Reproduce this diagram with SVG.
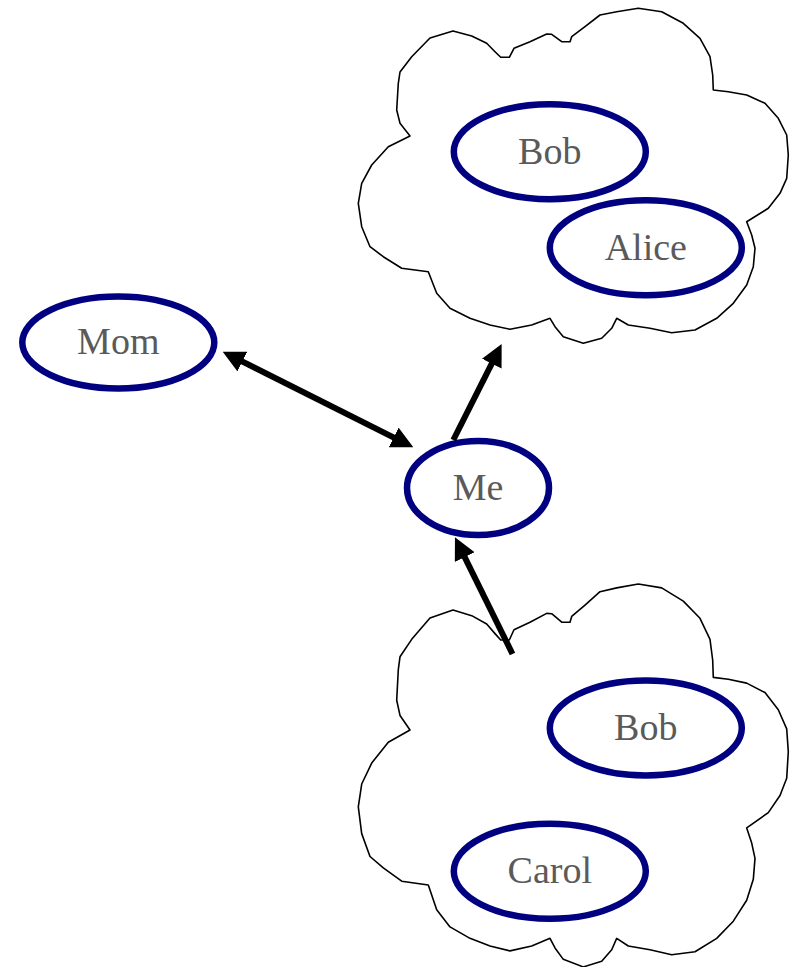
<svg xmlns="http://www.w3.org/2000/svg" xmlns:xlink="http://www.w3.org/1999/xlink" width="794" height="967" viewBox="0 0 794 967">
  <style>
    .cloud { fill: #ffffff; stroke: #000000; stroke-width: 1.6; stroke-linejoin: round; }
    .node ellipse { fill: none; stroke: #000080; stroke-width: 6.5; }
    .node text { font-family: "Liberation Serif", "Times New Roman", serif; font-size: 38px; fill: #5a5a5a; text-anchor: middle; }
    .edge { stroke: #000000; stroke-width: 6; fill: none; }
  </style>
  <defs>
    <marker id="head" viewBox="0 0 22 22" markerUnits="userSpaceOnUse" markerWidth="22" markerHeight="22" refX="7" refY="11" orient="auto-start-reverse">
      <path d="M0,0 L22,11 L0,22 Z" fill="#000000"/>
    </marker>
    <path id="cloudShape" vector-effect="non-scaling-stroke" d="M400,72 L411.7,56.7 L430,38 L453,31 L471.7,36 L486.7,43.3 L495,51.7 L500.7,57.3 L509.3,57.3 L514,48.3 L530,41.7 L546.7,34 L551.7,34.3 L561.7,41.7 L570,41.7 L571.7,36.7 L585,26.7 L600,15 L616.7,11.7 L638.3,8.3 L661.7,11.7 L683.3,23.3 L700,38.3 L710,56.7 L712.7,75 L713.3,90 L728.3,91.7 L746.7,95 L765,103.3 L778.3,118.3 L786.7,135 L788.3,155 L786.7,178.3 L780,193.3 L768.3,208.3 L746.7,221.7 L751.7,235 L755,248.3 L753.3,266.7 L746.7,285 L733.3,303.3 L716.7,318.3 L695,330 L671.7,332.7 L650,328.3 L628.3,325 L616.7,318.3 L611.7,328.3 L601.7,338.3 L583.3,343.3 L563.3,336.7 L555,326.7 L550,318.3 L531.7,325 L510,329.3 L490,325 L470,318.3 L450,308.3 L436.7,293.3 L428.3,271.7 L401.7,268.3 L383.3,256.7 L370,246.7 L361.7,226.7 L358.3,203.3 L361.7,183.3 L371.7,165 L388.3,146.7 L410,136 L400,123.3 L396.7,110 L398.3,83.3 Z"/>
  </defs>

  <!-- group outlines -->
  <g id="cloud-friends">
    <use xlink:href="#cloudShape" href="#cloudShape" class="cloud"/>
  </g>
  <g id="cloud-others">
    <use xlink:href="#cloudShape" href="#cloudShape" class="cloud" transform="translate(0,584) scale(1,1.143) translate(0,-8.3)"/>
  </g>

  <!-- people -->
  <g id="node-bob-top" class="node">
    <ellipse cx="549.8" cy="151.7" rx="96" ry="47.5"/>
    <text x="549.8" y="163.5">Bob</text>
  </g>
  <g id="node-alice" class="node">
    <ellipse cx="645.8" cy="247.8" rx="96" ry="47.5"/>
    <text x="645.8" y="259.6">Alice</text>
  </g>
  <g id="node-mom" class="node">
    <ellipse cx="118.3" cy="342.5" rx="96" ry="46"/>
    <text x="118.3" y="354.3">Mom</text>
  </g>
  <g id="node-me" class="node">
    <ellipse cx="478" cy="488" rx="71" ry="47"/>
    <text x="478" y="499.8">Me</text>
  </g>
  <g id="node-bob-bottom" class="node">
    <ellipse cx="645.8" cy="728" rx="96" ry="47.5"/>
    <text x="645.8" y="739.8">Bob</text>
  </g>
  <g id="node-carol" class="node">
    <ellipse cx="549.8" cy="871.3" rx="96" ry="47.5"/>
    <text x="549.8" y="883.1">Carol</text>
  </g>

  <!-- connectors -->
  <g id="connectors">
    <line class="edge" x1="236.1" y1="358.4" x2="399.9" y2="440.6" marker-start="url(#head)" marker-end="url(#head)"/>
    <line class="edge" x1="453.3" y1="440" x2="494.9" y2="357.4" marker-end="url(#head)"/>
    <line class="edge" x1="512.5" y1="654" x2="461.6" y2="550.8" marker-end="url(#head)"/>
  </g>
</svg>
